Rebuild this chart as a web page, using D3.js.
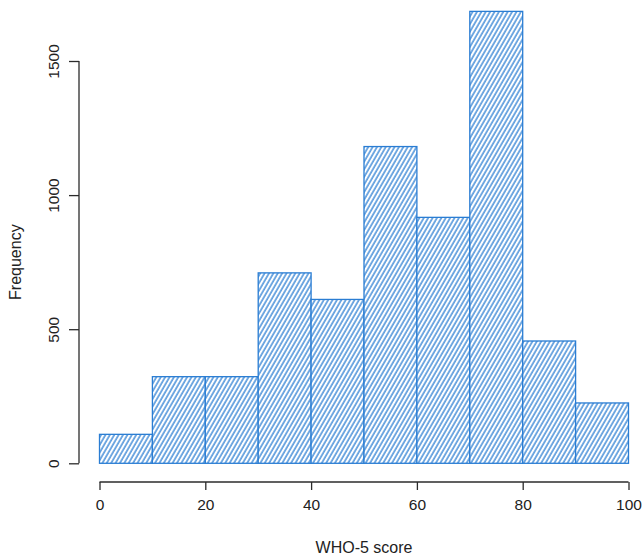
<!DOCTYPE html>
<html>
<head>
<meta charset="utf-8">
<script src="https://cdn.jsdelivr.net/npm/d3@7"></script>
<style>
  html, body { margin: 0; padding: 0; background: #fff; }
  svg { display: block; font-family: "Liberation Sans", Arial, sans-serif; }
</style>
</head>
<body>
<svg id="chart" width="642" height="558"></svg>
<script>
// Histogram of WHO-5 well-being scores, bins of width 10
const binStarts = [0, 10, 20, 30, 40, 50, 60, 70, 80, 90];
const binWidth = 10;
const frequencies = [108, 323, 323, 710, 611, 1181, 917, 1685, 456, 225];
const xTicks = [0, 20, 40, 60, 80, 100];
const yTicks = [0, 500, 1000, 1500];
const xTitle = "WHO-5 score";
const yTitle = "Frequency";

const barColor = "#2a7dd3";
const axisColor = "#2b2b2b";
const textColor = "#222";

const svg = d3.select("#chart");

const x = d3.scaleLinear().domain([0, 100]).range([99.5, 628.5]);
const y = d3.scaleLinear().domain([0, 1500]).range([463.3, 61]);

// Diagonal hatch fill for the bars
const defs = svg.append("defs");
const pat = defs.append("pattern")
  .attr("id", "hatch")
  .attr("patternUnits", "userSpaceOnUse")
  .attr("width", 3.8)
  .attr("height", 10)
  .attr("patternTransform", "rotate(30)");
pat.append("rect").attr("width", 3.8).attr("height", 10).attr("fill", "#fff");
pat.append("line")
  .attr("x1", 1).attr("x2", 1).attr("y1", 0).attr("y2", 10)
  .attr("stroke", barColor).attr("stroke-width", 1.3);

const bins = binStarts.map((s, i) => ({ x0: s, x1: s + binWidth, n: frequencies[i] }));

svg.append("g").selectAll("rect")
  .data(bins)
  .join("rect")
  .attr("x", d => x(d.x0))
  .attr("y", d => y(d.n))
  .attr("width", d => x(d.x1) - x(d.x0))
  .attr("height", d => y(0) - y(d.n))
  .attr("fill", "url(#hatch)")
  .attr("stroke", barColor)
  .attr("stroke-width", 1.3);

// X axis (detached below the bars)
const xAxis = svg.append("g")
  .attr("transform", "translate(0,482)")
  .call(d3.axisBottom(x).tickValues(xTicks).tickFormat(d3.format("d"))
    .tickSize(8).tickPadding(9).tickSizeOuter(0))
  .call(g => g.select(".domain").attr("d", `M${x(0)},0H${x(100)}`));
xAxis.selectAll("line, path").attr("stroke", axisColor).attr("stroke-width", 1.3);
xAxis.selectAll("text").attr("font-size", 15.5).attr("fill", textColor)
  .attr("font-family", "Liberation Sans, Arial, sans-serif");

// Y axis (detached left of the bars), labels rotated
const yAxis = svg.append("g")
  .attr("transform", "translate(79,0)")
  .call(d3.axisLeft(y).tickValues(yTicks).tickFormat(d3.format("d"))
    .tickSize(10).tickSizeOuter(0))
  .call(g => g.select(".domain").attr("d", `M0,${y(0)}V${y(1500)}`));
yAxis.selectAll("line, path").attr("stroke", axisColor).attr("stroke-width", 1.3);
yAxis.selectAll(".tick text")
  .attr("font-size", 15.5).attr("fill", textColor)
  .attr("font-family", "Liberation Sans, Arial, sans-serif")
  .attr("x", null).attr("dy", null)
  .attr("text-anchor", "middle")
  .attr("transform", "translate(-20,0) rotate(-90)");

// Axis titles
svg.append("text")
  .attr("x", x(50)).attr("y", 553)
  .attr("text-anchor", "middle")
  .attr("font-size", 16).attr("fill", textColor)
  .text(xTitle);

svg.append("text")
  .attr("transform", `translate(21,${(y(0) + y(1500)) / 2}) rotate(-90)`)
  .attr("text-anchor", "middle")
  .attr("font-size", 16).attr("fill", textColor)
  .text(yTitle);
</script>
</body>
</html>
